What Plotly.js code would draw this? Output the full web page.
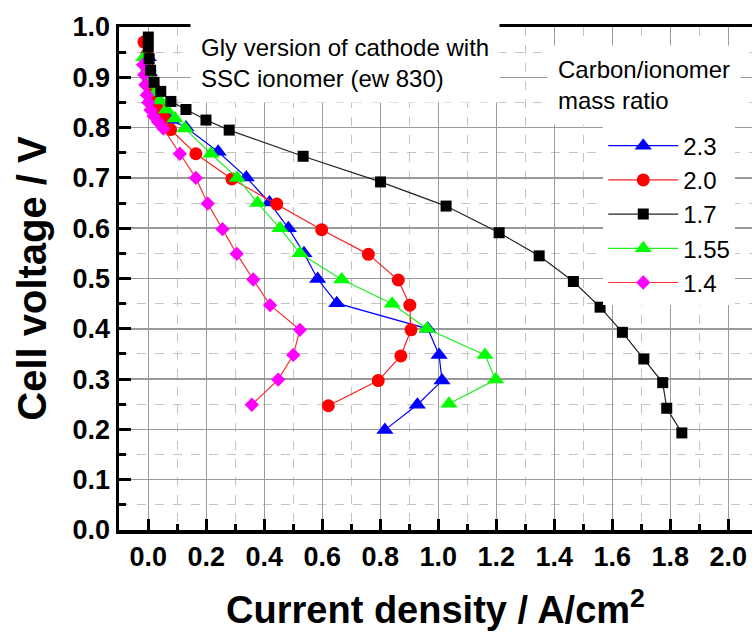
<!DOCTYPE html>
<html>
<head>
<meta charset="utf-8">
<script src="https://cdn.plot.ly/plotly-3.0.1.min.js"></script>
<style>html,body{margin:0;padding:0;background:#fff;overflow:hidden}#chart{width:752px;height:637px}</style>
</head>
<body>
<div id="chart"></div>
<script>
// Carbon/ionomer mass ratio series (current density A/cm2, cell voltage V)
const names = ["2.3", "2.0", "1.7", "1.55", "1.4"];

const x23 = [0.0, 0.004, 0.01, 0.02, 0.035, 0.055, 0.08, 0.13, 0.241, 0.338, 0.418, 0.483, 0.537, 0.584, 0.650, 0.964, 1.003, 1.013, 0.928, 0.816];
const v23 = [0.94, 0.91, 0.89, 0.87, 0.85, 0.83, 0.815, 0.80, 0.752, 0.701, 0.651, 0.600, 0.550, 0.499, 0.451, 0.400, 0.348, 0.297, 0.249, 0.199];

const x20 = [-0.015, -0.005, 0.0, 0.006, 0.014, 0.024, 0.038, 0.054, 0.077, 0.164, 0.288, 0.443, 0.598, 0.759, 0.862, 0.902, 0.906, 0.871, 0.793, 0.621];
const v20 = [0.970, 0.945, 0.920, 0.900, 0.880, 0.860, 0.840, 0.820, 0.796, 0.748, 0.698, 0.648, 0.597, 0.548, 0.497, 0.447, 0.398, 0.346, 0.297, 0.247];

const x17 = [0.0, 0.0, 0.003, 0.008, 0.020, 0.043, 0.078, 0.130, 0.199, 0.279, 0.534, 0.801, 1.027, 1.210, 1.348, 1.466, 1.558, 1.635, 1.709, 1.774, 1.788, 1.840];
const v17 = [0.980, 0.960, 0.937, 0.914, 0.890, 0.872, 0.852, 0.836, 0.815, 0.795, 0.743, 0.692, 0.644, 0.591, 0.545, 0.494, 0.443, 0.393, 0.340, 0.293, 0.242, 0.193];

const x155 = [-0.015, 0.0, 0.006, 0.014, 0.025, 0.040, 0.063, 0.092, 0.127, 0.216, 0.307, 0.377, 0.454, 0.523, 0.667, 0.841, 0.961, 1.161, 1.198, 1.037];
const v155 = [0.940, 0.920, 0.900, 0.885, 0.870, 0.854, 0.836, 0.818, 0.798, 0.748, 0.700, 0.650, 0.600, 0.550, 0.498, 0.450, 0.400, 0.348, 0.299, 0.251];

const x14 = [-0.018, -0.014, -0.010, -0.005, 0.0, 0.008, 0.018, 0.034, 0.052, 0.109, 0.164, 0.205, 0.256, 0.305, 0.362, 0.420, 0.523, 0.500, 0.448, 0.357];
const v14 = [0.925, 0.905, 0.885, 0.865, 0.850, 0.835, 0.823, 0.811, 0.798, 0.748, 0.700, 0.649, 0.598, 0.549, 0.498, 0.447, 0.398, 0.348, 0.299, 0.249];

const xTickVals = [0.0, 0.2, 0.4, 0.6, 0.8, 1.0, 1.2, 1.4, 1.6, 1.8, 2.0];
const yTickVals = [0.0, 0.1, 0.2, 0.3, 0.4, 0.5, 0.6, 0.7, 0.8, 0.9, 1.0];

function tr(x, y, name, lineColor, markerColor, symbol, size, rank) {
  return {
    type: "scatter", mode: "lines+markers", x: x, y: y, name: name,
    line: {color: lineColor, width: 1.2},
    marker: {color: markerColor, symbol: symbol, size: size},
    legendrank: rank
  };
}

const data = [
  tr(x23, v23, names[0], "#0000ff", "#0000ff", "triangle-up", 15, 1),
  tr(x20, v20, names[1], "#ff2020", "#ff0000", "circle", 13, 2),
  tr(x155, v155, names[3], "#22ee22", "#00ff00", "triangle-up", 15, 4),
  tr(x14, v14, names[4], "#ff3030", "#ff00ff", "diamond", 11, 5),
  tr(x17, v17, names[2], "#222222", "#000000", "square", 11, 3)
];

const tickFont = {family: "Liberation Sans, Arial, sans-serif", size: 27, color: "#000", weight: "bold"};

const layout = {
  width: 752, height: 637,
  margin: {l: 119, r: 0, t: 27, b: 107, pad: 0},
  paper_bgcolor: "#fff", plot_bgcolor: "#fff",
  font: {family: "Liberation Sans, Arial, sans-serif", color: "#000"},
  showlegend: true,
  legend: {
    x: 0.765, y: 0.808, xanchor: "left", yanchor: "top",
    bgcolor: "#fff", borderwidth: 0,
    font: {family: "Liberation Sans, Arial, sans-serif", size: 24, color: "#000"},
    itemwidth: 70, traceorder: "normal", tracegroupgap: 0
  },
  xaxis: {
    range: [-0.101, 2.082], autorange: false,
    tickmode: "array", tickvals: xTickVals, tickformat: ".1f",
    ticks: "inside", ticklen: 11, tickwidth: 3, tickcolor: "#000",
    showline: true, linewidth: 3.5, linecolor: "#000", mirror: true,
    showgrid: true, gridcolor: "#9a9a9a", gridwidth: 1.2,
    zeroline: false,
    minor: {dtick: 0.1, tick0: 0, ticks: "inside", ticklen: 6, tickwidth: 3, tickcolor: "#000",
            showgrid: true, gridcolor: "#c4c4c4", griddash: "dash", gridwidth: 1},
    tickfont: tickFont,
    title: {text: "Current density / A/cm<sup>2</sup>", standoff: 26,
            font: {family: "Liberation Sans, Arial, sans-serif", size: 38, color: "#000", weight: "bold"}}
  },
  yaxis: {
    range: [0, 1.0], autorange: false,
    tickmode: "array", tickvals: yTickVals, tickformat: ".1f",
    ticks: "inside", ticklen: 12, tickwidth: 3, tickcolor: "#000",
    showline: true, linewidth: 3.5, linecolor: "#000", mirror: false,
    showgrid: true, gridcolor: "#9a9a9a", gridwidth: 1.5,
    zeroline: false,
    minor: {dtick: 0.05, tick0: 0, ticks: "inside", ticklen: 7, tickwidth: 3, tickcolor: "#000",
            showgrid: true, gridcolor: "#c4c4c4", griddash: "dash", gridwidth: 1},
    tickfont: tickFont,
    title: {text: "Cell voltage / V", standoff: 14,
            font: {family: "Liberation Sans, Arial, sans-serif", size: 40, color: "#000", weight: "bold"}}
  },
  annotations: [
    {xref: "paper", yref: "paper", x: 0.112, y: 0.928, xanchor: "left", yanchor: "middle",
     align: "left", showarrow: false, bgcolor: "#fff", borderpad: 10,
     text: "Gly version of cathode with<br>SSC ionomer (ew 830)",
     font: {family: "Liberation Sans, Arial, sans-serif", size: 24, color: "#000"}},
    {xref: "paper", yref: "paper", x: 0.676, y: 0.884, xanchor: "left", yanchor: "middle",
     align: "left", showarrow: false, bgcolor: "#fff", borderpad: 10,
     text: "Carbon/ionomer<br>mass ratio",
     font: {family: "Liberation Sans, Arial, sans-serif", size: 24, color: "#000"}}
  ]
};

Plotly.newPlot("chart", data, layout, {displayModeBar: false, staticPlot: true});
</script>
</body>
</html>
